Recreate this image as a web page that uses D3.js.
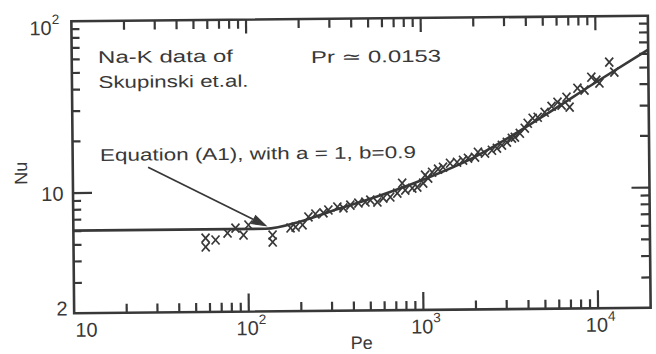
<!DOCTYPE html>
<html>
<head>
<meta charset="utf-8">
<script src="https://cdn.jsdelivr.net/npm/d3@7"></script>
<style>
  html, body { margin: 0; padding: 0; background: #ffffff; }
  svg { display: block; }
  text { font-family: "Liberation Sans", "DejaVu Sans", sans-serif; fill: #383838; }
</style>
</head>
<body>
<svg id="chart" width="656" height="354"></svg>
<script>
// ---- data ----
const peData = [57.1, 57.1, 65.1, 76.3, 84.8, 94.2, 100.7, 138.2, 138.2, 175.2, 187.2, 205.3, 222.2, 243.7,
  270.8, 289.3, 325.9, 352.7, 386.8, 429.8, 471.5, 503.6, 552.3, 597.6, 655.4, 718.9, 768, 799, 876.3,
  936.1, 1013, 1040, 1082, 1141, 1235, 1319, 1447, 1587, 1718, 1835, 2012, 2094, 2296, 2518, 2690, 2873,
  3069, 3280, 3412, 3645, 3894, 4050, 4327, 4622, 5070, 5559, 6015, 6344, 6776, 7049, 7834, 8593, 9424,
  10067, 10474, 11953, 12764];
const nuData = [5.38, 4.78, 5.24, 5.74, 6.13, 5.58, 6.38, 5.56, 5.06, 6.10, 6.17, 6.34, 7.05, 7.33,
  7.43, 7.72, 8.03, 7.92, 8.22, 8.44, 8.55, 8.77, 8.53, 8.99, 9.11, 9.59, 10.95, 9.98, 10.23,
  10.37, 10.93, 12.16, 11.67, 12.64, 13.16, 13.50, 14.22, 14.40, 14.79, 15.18, 15.37, 16.43, 16.19, 16.83, 17.29, 17.98,
  18.72, 19.72, 19.98, 21.05, 22.52, 24.05, 25.70, 26.03, 27.8, 30.1, 31.77, 30.49, 33.93, 29.69, 38.23, 37.22, 44.22,
  42.48, 40.82, 53.98, 47.18];

// Equation (A1), a = 1, b = 0.9
const curvePe = [10, 126, 200, 300, 500, 1000, 2000, 5000, 10000, 20000];
const curveNu = [6.05, 6.05, 6.64, 7.6, 8.9, 11.4, 15.4, 26.5, 41.3, 63.5];

const xDomain = [10, 20000];
const yDomain = [2, 100];
const xMajorTicks = [10, 100, 1000, 10000];
const xTickLabels = ["10", "10^2", "10^3", "10^4"];
const yMajorTicks = [2, 10, 100];
const yTickLabels = ["2", "10", "10^2"];
const xMinorTicks = [20, 30, 40, 50, 60, 70, 80, 90, 200, 300, 400, 500, 600, 700, 800, 900,
  2000, 3000, 4000, 5000, 6000, 7000, 8000, 9000];
const yMinorTicks = [3, 4, 5, 6, 7, 8, 9, 20, 30, 40, 50, 60, 70, 80, 90];

const arrowFrom = [27, 14.0];   // [Pe, Nu]
const arrowTo = [127, 6.3];

const textLines = [
  { t: "Na-K data of", x: 99, y: 60.5, w: 135 },
  { t: "Skupinski et.al.", x: 99.3, y: 85.5, w: 150 },
  { t: "Pr \u2243 0.0153", x: 312, y: 62.5, w: 130 },
  { t: "Equation (A1), with a = 1, b=0.9", x: 100, y: 158.5, w: 316 }
];

// ---- layout ----
const ink = "#383838";
const L = 72.75, R = 649.25, T = 18.5, B = 310.5;
const svg = d3.select("#chart");
svg.append("rect").attr("width", 656).attr("height", 354).attr("fill", "#ffffff");
const g = svg.append("g").attr("transform", "rotate(-0.55, 361, 164.5)");

const xs = d3.scaleLog().domain(xDomain).range([L, R]);
const ys = d3.scaleLog().domain(yDomain).range([B, T]);

const xMaj = [100, 1000, 10000];
const yMaj = [10];

// ticks: each tick is a short polyline built with d3.line through the scales
const tickLine = d3.line();
const tickSpecs = [];
xMinorTicks.forEach(v => { tickSpecs.push([[xs(v), B], [xs(v), B - 9]]); tickSpecs.push([[xs(v), T], [xs(v), T + 9]]); });
xMaj.forEach(v => { tickSpecs.push([[xs(v), B], [xs(v), B - 18]]); tickSpecs.push([[xs(v), T], [xs(v), T + 14]]); });
yMinorTicks.forEach(v => { tickSpecs.push([[L, ys(v)], [L + 8, ys(v)]]); tickSpecs.push([[R, ys(v)], [R - 9, ys(v)]]); });
yMaj.forEach(v => { tickSpecs.push([[L, ys(v)], [L + 19, ys(v)]]); tickSpecs.push([[R, ys(v)], [R - 18, ys(v)]]); });
g.append("g").selectAll("path").data(tickSpecs).join("path")
  .attr("d", d => tickLine(d))
  .attr("stroke", ink).attr("stroke-width", 2.2).attr("fill", "none");

// frame
g.append("rect").attr("x", L).attr("y", T).attr("width", R - L).attr("height", B - T)
  .attr("fill", "none").attr("stroke", ink).attr("stroke-width", 2.6);

// tick labels
function powLabel(sel, label, fs) {
  const parts = label.split("^");
  sel.append("tspan").text(parts[0]);
  if (parts[1]) sel.append("tspan").attr("dy", -fs * 0.55).attr("font-size", fs * 0.68).text(parts[1]);
}
const fsTick = 20;
xMajorTicks.forEach((v, i) => {
  const isEdge = v === xDomain[0];
  const t = g.append("text").attr("font-size", fsTick)
    .attr("x", isEdge ? xs(v) + 1 : xs(v) - 12.5).attr("y", B + 23.5);
  powLabel(t, xTickLabels[i], fsTick);
});
yMajorTicks.forEach((v, i) => {
  const lab = yTickLabels[i];
  if (lab.includes("^")) {
    const t = g.append("text").attr("font-size", fsTick).attr("x", L - 42).attr("y", ys(v) + 13.5);
    powLabel(t, lab, fsTick);
  } else {
    g.append("text").attr("font-size", fsTick).attr("text-anchor", "end")
      .attr("x", L - (lab.length > 1 ? 9.5 : 6.5)).attr("y", v === yDomain[0] ? ys(v) + 2 : ys(v) + 7.5)
      .text(lab);
  }
});

// axis titles
g.append("text").attr("font-size", 18).attr("text-anchor", "middle")
  .attr("x", (L + R) / 2 - 1).attr("y", 349).text("Pe");
g.append("text").attr("font-size", 18).attr("text-anchor", "middle")
  .attr("transform", "translate(27,170) rotate(-90)").text("Nu");

// annotation texts
textLines.forEach(d => {
  g.append("text").attr("font-size", 17).attr("x", d.x).attr("y", d.y)
    .attr("textLength", d.w).attr("lengthAdjust", "spacingAndGlyphs").text(d.t);
});

// curve
const curvePts = curvePe.map((p, i) => [xs(p), ys(curveNu[i])]);
g.append("path").attr("d", d3.line().curve(d3.curveMonotoneX)(curvePts))
  .attr("fill", "none").attr("stroke", ink).attr("stroke-width", 2.6);

// arrow
const ax0 = xs(arrowFrom[0]), ay0 = ys(arrowFrom[1]);
const ax1 = xs(arrowTo[0]), ay1 = ys(arrowTo[1]);
const ang = Math.atan2(ay1 - ay0, ax1 - ax0);
const hl = 14, hw = 4.5;
const bx = ax1 - hl * Math.cos(ang), by = ay1 - hl * Math.sin(ang);
g.append("line").attr("x1", ax0).attr("y1", ay0).attr("x2", bx).attr("y2", by)
  .attr("stroke", ink).attr("stroke-width", 1.8);
g.append("path").attr("d", `M${ax1},${ay1}L${bx - hw * Math.sin(ang)},${by + hw * Math.cos(ang)}L${bx + hw * Math.sin(ang)},${by - hw * Math.cos(ang)}Z`)
  .attr("fill", ink).attr("stroke", ink).attr("stroke-width", 1);

// data markers (x)
g.append("g").selectAll("path").data(peData.map((p, i) => [p, nuData[i]])).join("path")
  .attr("transform", d => `translate(${xs(d[0])},${ys(d[1])})`)
  .attr("d", "M-4,-4.5L4,4.5M-4,4.5L4,-4.5")
  .attr("stroke", ink).attr("stroke-width", 1.7).attr("fill", "none");
</script>
</body>
</html>
